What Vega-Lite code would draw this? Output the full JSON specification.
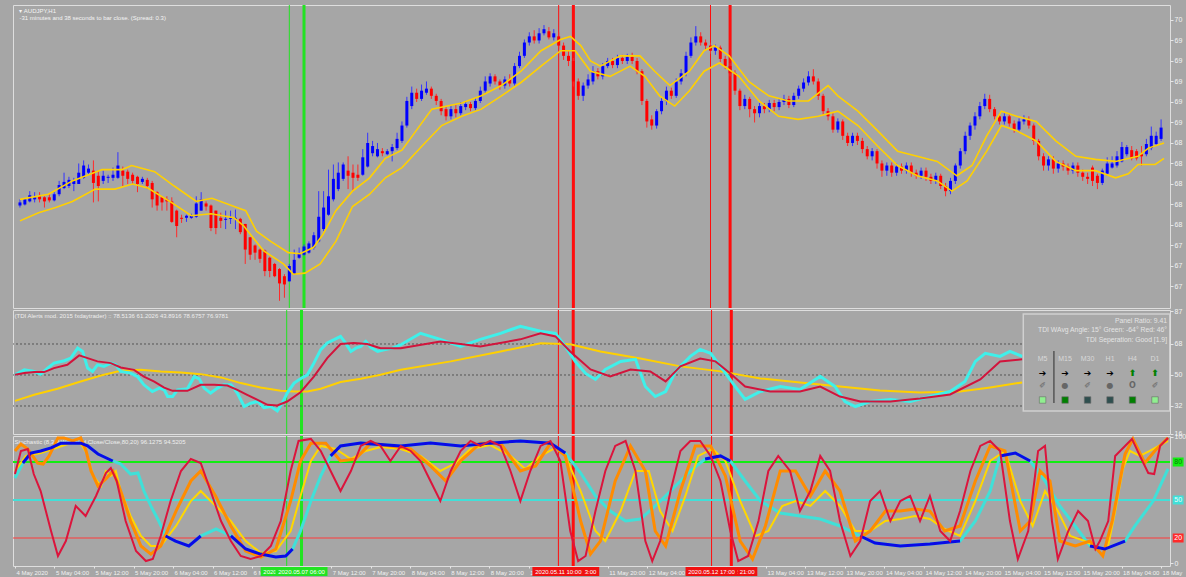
{
"$schema":"https://vega.github.io/schema/vega-lite/v6.json",
"background":"#a6a6a6",
"padding":{"left":12,"top":4,"right":0,"bottom":0},
"bounds":"flush",
"config":{"view":{"stroke":"#dedede","strokeWidth":1},"concat":{"spacing":2},"axis":{"labelFont":"Liberation Sans","labelFontSize":7,"labelColor":"#f2f2f2","tickColor":"#e6e6e6","domain":false,"grid":false,"labelOverlap":false,"labelSeparation":-1000}},
"datasets":{
"vl":[{"i":55,"sig":"buy","lvl":"pre","t":"2020.05.07 03:00"},{"i":58,"sig":"buy","lvl":"main","t":"2020.05.07 06:00"},{"i":110,"sig":"sell","lvl":"pre","t":"2020.05.11 10:00"},{"i":113,"sig":"sell","lvl":"main","t":"2020.05.11 13:00"},{"i":141,"sig":"sell","lvl":"pre","t":"2020.05.12 17:00"},{"i":145,"sig":"sell","lvl":"main","t":"2020.05.12 21:00"}],
"bars":[
{"i":0,"o":68.24,"h":68.30,"l":68.22,"c":68.27},{"i":1,"o":68.25,"h":68.31,"l":68.24,"c":68.30},{"i":2,"o":68.28,"h":68.38,"l":68.27,"c":68.34},{"i":3,"o":68.30,"h":68.37,"l":68.27,"c":68.32},{"i":4,"o":68.33,"h":68.37,"l":68.27,"c":68.30},{"i":5,"o":68.32,"h":68.33,"l":68.22,"c":68.28},{"i":6,"o":68.32,"h":68.35,"l":68.27,"c":68.29},{"i":7,"o":68.29,"h":68.37,"l":68.28,"c":68.35},{"i":8,"o":68.35,"h":68.48,"l":68.33,"c":68.44},{"i":9,"o":68.41,"h":68.56,"l":68.40,"c":68.47},
{"i":10,"o":68.43,"h":68.52,"l":68.41,"c":68.49},{"i":11,"o":68.45,"h":68.51,"l":68.38,"c":68.48},{"i":12,"o":68.45,"h":68.65,"l":68.45,"c":68.56},{"i":13,"o":68.51,"h":68.68,"l":68.50,"c":68.63},{"i":14,"o":68.56,"h":68.64,"l":68.54,"c":68.60},{"i":15,"o":68.58,"h":68.68,"l":68.27,"c":68.46},{"i":16,"o":68.53,"h":68.58,"l":68.28,"c":68.43},{"i":17,"o":68.48,"h":68.58,"l":68.45,"c":68.53},{"i":18,"o":68.51,"h":68.54,"l":68.46,"c":68.52},{"i":19,"o":68.51,"h":68.61,"l":68.48,"c":68.54},
{"i":20,"o":68.51,"h":68.76,"l":68.50,"c":68.63},{"i":21,"o":68.58,"h":68.62,"l":68.43,"c":68.53},{"i":22,"o":68.57,"h":68.59,"l":68.45,"c":68.50},{"i":23,"o":68.54,"h":68.56,"l":68.45,"c":68.48},{"i":24,"o":68.52,"h":68.53,"l":68.37,"c":68.45},{"i":25,"o":68.47,"h":68.52,"l":68.45,"c":68.50},{"i":26,"o":68.49,"h":68.51,"l":68.40,"c":68.43},{"i":27,"o":68.46,"h":68.48,"l":68.22,"c":68.30},{"i":28,"o":68.37,"h":68.38,"l":68.19,"c":68.24},{"i":29,"o":68.32,"h":68.33,"l":68.19,"c":68.27},
{"i":30,"o":68.30,"h":68.33,"l":68.19,"c":68.28},{"i":31,"o":68.28,"h":68.32,"l":68.07,"c":68.08},{"i":32,"o":68.19,"h":68.20,"l":67.93,"c":68.04},{"i":33,"o":68.12,"h":68.15,"l":68.07,"c":68.11},{"i":34,"o":68.12,"h":68.15,"l":68.08,"c":68.14},{"i":35,"o":68.12,"h":68.16,"l":68.11,"c":68.14},{"i":36,"o":68.13,"h":68.33,"l":68.12,"c":68.26},{"i":37,"o":68.19,"h":68.37,"l":68.19,"c":68.30},{"i":38,"o":68.26,"h":68.28,"l":68.19,"c":68.23},{"i":39,"o":68.24,"h":68.25,"l":67.99,"c":68.02},
{"i":40,"o":68.19,"h":68.19,"l":67.96,"c":68.02},{"i":41,"o":68.12,"h":68.17,"l":68.02,"c":68.09},{"i":42,"o":68.10,"h":68.19,"l":68.01,"c":68.11},{"i":43,"o":68.11,"h":68.19,"l":68.06,"c":68.12},{"i":44,"o":68.11,"h":68.20,"l":68.01,"c":68.12},{"i":45,"o":68.11,"h":68.12,"l":67.96,"c":67.98},{"i":46,"o":68.06,"h":68.06,"l":67.67,"c":67.81},{"i":47,"o":67.93,"h":67.93,"l":67.71,"c":67.76},{"i":48,"o":67.85,"h":67.86,"l":67.71,"c":67.78},{"i":49,"o":67.81,"h":67.82,"l":67.68,"c":67.72},
{"i":50,"o":67.80,"h":67.81,"l":67.55,"c":67.60},{"i":51,"o":67.73,"h":67.74,"l":67.54,"c":67.60},{"i":52,"o":67.67,"h":67.68,"l":67.54,"c":67.55},{"i":53,"o":67.62,"h":67.63,"l":67.31,"c":67.48},{"i":54,"o":67.55,"h":67.57,"l":67.34,"c":67.47},{"i":55,"o":67.50,"h":67.67,"l":67.50,"c":67.65},{"i":56,"o":67.57,"h":67.81,"l":67.57,"c":67.71},{"i":57,"o":67.73,"h":67.83,"l":67.72,"c":67.77},{"i":58,"o":67.76,"h":67.86,"l":67.75,"c":67.84},{"i":59,"o":67.78,"h":67.89,"l":67.77,"c":67.87},
{"i":60,"o":67.83,"h":67.98,"l":67.81,"c":67.95},{"i":61,"o":67.89,"h":68.38,"l":67.88,"c":68.13},{"i":62,"o":68.01,"h":68.38,"l":67.99,"c":68.22},{"i":63,"o":68.15,"h":68.59,"l":68.14,"c":68.33},{"i":64,"o":68.30,"h":68.64,"l":68.28,"c":68.50},{"i":65,"o":68.40,"h":68.66,"l":68.38,"c":68.56},{"i":66,"o":68.50,"h":68.66,"l":68.48,"c":68.64},{"i":67,"o":68.58,"h":68.72,"l":68.40,"c":68.53},{"i":68,"o":68.56,"h":68.64,"l":68.38,"c":68.51},{"i":69,"o":68.54,"h":68.64,"l":68.48,"c":68.51},
{"i":70,"o":68.54,"h":68.79,"l":68.53,"c":68.71},{"i":71,"o":68.62,"h":68.95,"l":68.61,"c":68.85},{"i":72,"o":68.75,"h":68.87,"l":68.72,"c":68.82},{"i":73,"o":68.72,"h":68.85,"l":68.71,"c":68.79},{"i":74,"o":68.77,"h":68.80,"l":68.72,"c":68.75},{"i":75,"o":68.74,"h":68.79,"l":68.73,"c":68.77},{"i":76,"o":68.77,"h":68.84,"l":68.67,"c":68.81},{"i":77,"o":68.80,"h":68.95,"l":68.78,"c":68.89},{"i":78,"o":68.87,"h":69.06,"l":68.85,"c":69.02},{"i":79,"o":69.02,"h":69.30,"l":69.00,"c":69.26},
{"i":80,"o":69.21,"h":69.40,"l":69.18,"c":69.34},{"i":81,"o":69.34,"h":69.38,"l":69.25,"c":69.28},{"i":82,"o":69.28,"h":69.42,"l":69.26,"c":69.36},{"i":83,"o":69.34,"h":69.45,"l":69.32,"c":69.38},{"i":84,"o":69.38,"h":69.40,"l":69.28,"c":69.31},{"i":85,"o":69.31,"h":69.33,"l":69.22,"c":69.26},{"i":86,"o":69.26,"h":69.28,"l":69.12,"c":69.16},{"i":87,"o":69.18,"h":69.20,"l":69.07,"c":69.11},{"i":88,"o":69.11,"h":69.22,"l":69.08,"c":69.18},{"i":89,"o":69.18,"h":69.22,"l":69.10,"c":69.14},
{"i":90,"o":69.14,"h":69.25,"l":69.12,"c":69.21},{"i":91,"o":69.20,"h":69.26,"l":69.17,"c":69.23},{"i":92,"o":69.23,"h":69.25,"l":69.16,"c":69.19},{"i":93,"o":69.19,"h":69.29,"l":69.17,"c":69.26},{"i":94,"o":69.26,"h":69.40,"l":69.24,"c":69.36},{"i":95,"o":69.36,"h":69.50,"l":69.34,"c":69.45},{"i":96,"o":69.43,"h":69.53,"l":69.40,"c":69.50},{"i":97,"o":69.50,"h":69.52,"l":69.42,"c":69.45},{"i":98,"o":69.45,"h":69.47,"l":69.37,"c":69.41},{"i":99,"o":69.41,"h":69.50,"l":69.38,"c":69.47},
{"i":100,"o":69.47,"h":69.52,"l":69.40,"c":69.43},{"i":101,"o":69.43,"h":69.63,"l":69.41,"c":69.60},{"i":102,"o":69.60,"h":69.74,"l":69.58,"c":69.70},{"i":103,"o":69.70,"h":69.86,"l":69.68,"c":69.83},{"i":104,"o":69.83,"h":69.93,"l":69.80,"c":69.89},{"i":105,"o":69.89,"h":69.95,"l":69.82,"c":69.85},{"i":106,"o":69.85,"h":69.97,"l":69.82,"c":69.92},{"i":107,"o":69.92,"h":70.00,"l":69.90,"c":69.96},{"i":108,"o":69.94,"h":69.98,"l":69.86,"c":69.88},{"i":109,"o":69.88,"h":69.96,"l":69.85,"c":69.92},
{"i":110,"o":69.89,"h":69.93,"l":69.77,"c":69.80},{"i":111,"o":69.80,"h":69.83,"l":69.66,"c":69.70},{"i":112,"o":69.70,"h":69.75,"l":69.60,"c":69.65},{"i":113,"o":69.65,"h":69.68,"l":69.40,"c":69.45},{"i":114,"o":69.45,"h":69.48,"l":69.27,"c":69.31},{"i":115,"o":69.31,"h":69.44,"l":69.26,"c":69.41},{"i":116,"o":69.41,"h":69.52,"l":69.38,"c":69.47},{"i":117,"o":69.45,"h":69.60,"l":69.42,"c":69.55},{"i":118,"o":69.55,"h":69.58,"l":69.47,"c":69.50},{"i":119,"o":69.50,"h":69.63,"l":69.47,"c":69.60},
{"i":120,"o":69.60,"h":69.68,"l":69.58,"c":69.65},{"i":121,"o":69.65,"h":69.68,"l":69.58,"c":69.61},{"i":122,"o":69.61,"h":69.71,"l":69.58,"c":69.68},{"i":123,"o":69.68,"h":69.71,"l":69.62,"c":69.65},{"i":124,"o":69.65,"h":69.72,"l":69.62,"c":69.69},{"i":125,"o":69.69,"h":69.73,"l":69.62,"c":69.65},{"i":126,"o":69.65,"h":69.68,"l":69.52,"c":69.55},{"i":127,"o":69.55,"h":69.57,"l":69.22,"c":69.26},{"i":128,"o":69.26,"h":69.28,"l":69.00,"c":69.06},{"i":129,"o":69.08,"h":69.12,"l":68.98,"c":69.02},
{"i":130,"o":69.02,"h":69.18,"l":68.99,"c":69.16},{"i":131,"o":69.16,"h":69.29,"l":69.13,"c":69.26},{"i":132,"o":69.26,"h":69.40,"l":69.22,"c":69.36},{"i":133,"o":69.36,"h":69.39,"l":69.28,"c":69.31},{"i":134,"o":69.31,"h":69.48,"l":69.29,"c":69.45},{"i":135,"o":69.45,"h":69.57,"l":69.42,"c":69.53},{"i":136,"o":69.53,"h":69.74,"l":69.50,"c":69.70},{"i":137,"o":69.70,"h":69.88,"l":69.68,"c":69.83},{"i":138,"o":69.83,"h":69.99,"l":69.80,"c":69.89},{"i":139,"o":69.89,"h":69.93,"l":69.80,"c":69.83},
{"i":140,"o":69.83,"h":69.86,"l":69.76,"c":69.80},{"i":141,"o":69.80,"h":69.83,"l":69.72,"c":69.75},{"i":142,"o":69.75,"h":69.81,"l":69.71,"c":69.78},{"i":143,"o":69.78,"h":69.80,"l":69.64,"c":69.67},{"i":144,"o":69.67,"h":69.70,"l":69.57,"c":69.60},{"i":145,"o":69.60,"h":69.63,"l":69.50,"c":69.53},{"i":146,"o":69.53,"h":69.56,"l":69.32,"c":69.36},{"i":147,"o":69.36,"h":69.38,"l":69.17,"c":69.21},{"i":148,"o":69.21,"h":69.32,"l":69.18,"c":69.28},{"i":149,"o":69.28,"h":69.30,"l":69.10,"c":69.18},
{"i":150,"o":69.18,"h":69.21,"l":69.05,"c":69.14},{"i":151,"o":69.14,"h":69.24,"l":69.10,"c":69.21},{"i":152,"o":69.21,"h":69.24,"l":69.14,"c":69.18},{"i":153,"o":69.18,"h":69.27,"l":69.15,"c":69.24},{"i":154,"o":69.24,"h":69.27,"l":69.16,"c":69.20},{"i":155,"o":69.20,"h":69.28,"l":69.17,"c":69.25},{"i":156,"o":69.25,"h":69.32,"l":69.22,"c":69.28},{"i":157,"o":69.28,"h":69.31,"l":69.19,"c":69.22},{"i":158,"o":69.22,"h":69.34,"l":69.20,"c":69.31},{"i":159,"o":69.31,"h":69.41,"l":69.28,"c":69.38},
{"i":160,"o":69.38,"h":69.48,"l":69.35,"c":69.44},{"i":161,"o":69.44,"h":69.55,"l":69.41,"c":69.50},{"i":162,"o":69.50,"h":69.57,"l":69.42,"c":69.45},{"i":163,"o":69.45,"h":69.48,"l":69.27,"c":69.31},{"i":164,"o":69.31,"h":69.33,"l":69.12,"c":69.16},{"i":165,"o":69.16,"h":69.19,"l":69.07,"c":69.11},{"i":166,"o":69.11,"h":69.14,"l":68.95,"c":68.98},{"i":167,"o":68.98,"h":69.09,"l":68.95,"c":69.06},{"i":168,"o":69.06,"h":69.08,"l":68.88,"c":68.92},{"i":169,"o":68.92,"h":68.95,"l":68.82,"c":68.85},
{"i":170,"o":68.85,"h":68.95,"l":68.82,"c":68.92},{"i":171,"o":68.92,"h":68.95,"l":68.83,"c":68.87},{"i":172,"o":68.87,"h":68.90,"l":68.75,"c":68.79},{"i":173,"o":68.79,"h":68.82,"l":68.69,"c":68.72},{"i":174,"o":68.72,"h":68.80,"l":68.68,"c":68.77},{"i":175,"o":68.77,"h":68.79,"l":68.60,"c":68.65},{"i":176,"o":68.65,"h":68.68,"l":68.52,"c":68.58},{"i":177,"o":68.58,"h":68.66,"l":68.53,"c":68.63},{"i":178,"o":68.63,"h":68.66,"l":68.52,"c":68.56},{"i":179,"o":68.56,"h":68.65,"l":68.53,"c":68.62},
{"i":180,"o":68.62,"h":68.65,"l":68.55,"c":68.58},{"i":181,"o":68.58,"h":68.66,"l":68.55,"c":68.63},{"i":182,"o":68.63,"h":68.66,"l":68.52,"c":68.56},{"i":183,"o":68.56,"h":68.59,"l":68.50,"c":68.53},{"i":184,"o":68.53,"h":68.61,"l":68.50,"c":68.58},{"i":185,"o":68.58,"h":68.61,"l":68.48,"c":68.52},{"i":186,"o":68.52,"h":68.55,"l":68.45,"c":68.48},{"i":187,"o":68.48,"h":68.56,"l":68.45,"c":68.53},{"i":188,"o":68.53,"h":68.55,"l":68.40,"c":68.43},{"i":189,"o":68.43,"h":68.46,"l":68.33,"c":68.38},
{"i":190,"o":68.38,"h":68.51,"l":68.35,"c":68.48},{"i":191,"o":68.48,"h":68.65,"l":68.45,"c":68.63},{"i":192,"o":68.63,"h":68.80,"l":68.60,"c":68.77},{"i":193,"o":68.77,"h":68.96,"l":68.74,"c":68.92},{"i":194,"o":68.92,"h":69.05,"l":68.88,"c":69.02},{"i":195,"o":69.02,"h":69.15,"l":68.98,"c":69.11},{"i":196,"o":69.11,"h":69.25,"l":69.08,"c":69.21},{"i":197,"o":69.21,"h":69.33,"l":69.18,"c":69.28},{"i":198,"o":69.28,"h":69.32,"l":69.15,"c":69.18},{"i":199,"o":69.18,"h":69.20,"l":69.08,"c":69.11},
{"i":200,"o":69.11,"h":69.14,"l":69.03,"c":69.06},{"i":201,"o":69.06,"h":69.14,"l":69.03,"c":69.11},{"i":202,"o":69.11,"h":69.14,"l":69.01,"c":69.04},{"i":203,"o":69.04,"h":69.07,"l":68.95,"c":68.98},{"i":204,"o":68.98,"h":69.09,"l":68.95,"c":69.06},{"i":205,"o":69.06,"h":69.12,"l":69.03,"c":69.08},{"i":206,"o":69.08,"h":69.11,"l":68.99,"c":69.02},{"i":207,"o":69.02,"h":69.04,"l":68.83,"c":68.87},{"i":208,"o":68.87,"h":68.89,"l":68.68,"c":68.72},{"i":209,"o":68.72,"h":68.75,"l":68.58,"c":68.63},
{"i":210,"o":68.63,"h":68.72,"l":68.58,"c":68.69},{"i":211,"o":68.69,"h":68.72,"l":68.55,"c":68.60},{"i":212,"o":68.60,"h":68.68,"l":68.56,"c":68.65},{"i":213,"o":68.65,"h":68.68,"l":68.58,"c":68.62},{"i":214,"o":68.62,"h":68.65,"l":68.54,"c":68.58},{"i":215,"o":68.58,"h":68.66,"l":68.55,"c":68.63},{"i":216,"o":68.63,"h":68.66,"l":68.52,"c":68.56},{"i":217,"o":68.56,"h":68.59,"l":68.48,"c":68.52},{"i":218,"o":68.52,"h":68.56,"l":68.45,"c":68.50},{"i":219,"o":68.61,"h":68.63,"l":68.43,"c":68.48},
{"i":220,"o":68.53,"h":68.55,"l":68.40,"c":68.46},{"i":221,"o":68.46,"h":68.60,"l":68.44,"c":68.58},{"i":222,"o":68.55,"h":68.71,"l":68.53,"c":68.65},{"i":223,"o":68.61,"h":68.72,"l":68.60,"c":68.65},{"i":224,"o":68.63,"h":68.77,"l":68.61,"c":68.72},{"i":225,"o":68.67,"h":68.86,"l":68.66,"c":68.81},{"i":226,"o":68.74,"h":68.83,"l":68.72,"c":68.81},{"i":227,"o":68.78,"h":68.82,"l":68.68,"c":68.70},{"i":228,"o":68.77,"h":68.79,"l":68.68,"c":68.70},{"i":229,"o":68.74,"h":68.82,"l":68.63,"c":68.72},
{"i":230,"o":68.74,"h":68.89,"l":68.72,"c":68.84},{"i":231,"o":68.80,"h":69.01,"l":68.78,"c":68.92},{"i":232,"o":68.84,"h":68.96,"l":68.82,"c":68.92},{"i":233,"o":68.89,"h":69.08,"l":68.87,"c":69.00}],
"bands":[
{"s":"a","i":0,"p":68.30},{"s":"a","i":5.8,"p":68.35},{"s":"a","i":10.7,"p":68.48},{"s":"a","i":16.8,"p":68.59},{"s":"a","i":20.8,"p":68.59},{"s":"a","i":22.8,"p":68.63},{"s":"a","i":27.5,"p":68.57},{"s":"a","i":31.5,"p":68.43},{"s":"a","i":36,"p":68.28},{"s":"a","i":39.2,"p":68.31},{"s":"a","i":44.3,"p":68.22},{"s":"a","i":46.1,"p":68.19},{"s":"a","i":48.3,"p":67.99},{"s":"a","i":51.2,"p":67.89},{"s":"a","i":54.8,"p":67.78},{"s":"a","i":57.2,"p":67.77},{"s":"a","i":59.9,"p":67.83},{"s":"a","i":61.9,"p":67.96},{"s":"a","i":64.5,"p":68.19},{"s":"a","i":67.9,"p":68.38},{"s":"a","i":71.4,"p":68.51},{"s":"a","i":74.6,"p":68.70},{"s":"a","i":78,"p":68.78},{"s":"a","i":84.1,"p":69.18},{"s":"a","i":90.2,"p":69.24},{"s":"a","i":94.2,"p":69.31},{"s":"a","i":98.3,"p":69.41},{"s":"a","i":102.3,"p":69.55},{"s":"a","i":106.4,"p":69.75},{"s":"a","i":110.4,"p":69.86},{"s":"a","i":112.4,"p":69.89},{"s":"a","i":114.5,"p":69.80},{"s":"a","i":116.5,"p":69.65},{"s":"a","i":118.5,"p":69.60},{"s":"a","i":122.6,"p":69.70},{"s":"a","i":126.6,"p":69.70},{"s":"a","i":129.6,"p":69.55},{"s":"a","i":132.7,"p":69.41},{"s":"a","i":136.7,"p":69.55},{"s":"a","i":139.7,"p":69.75},{"s":"a","i":141.8,"p":69.80},{"s":"a","i":144.8,"p":69.70},{"s":"a","i":148.8,"p":69.45},{"s":"a","i":152.9,"p":69.31},{"s":"a","i":156.9,"p":69.26},{"s":"a","i":161,"p":69.26},{"s":"a","i":165,"p":69.41},{"s":"a","i":167,"p":69.31},{"s":"a","i":171.1,"p":69.16},{"s":"a","i":175.1,"p":68.97},{"s":"a","i":179.2,"p":68.77},{"s":"a","i":183.2,"p":68.72},{"s":"a","i":187.3,"p":68.67},{"s":"a","i":191.3,"p":68.53},{"s":"a","i":194.4,"p":68.63},{"s":"a","i":197.4,"p":68.92},{"s":"a","i":200.4,"p":69.16},{"s":"a","i":203.5,"p":69.11},{"s":"a","i":207.5,"p":69.06},{"s":"a","i":211.5,"p":68.87},{"s":"a","i":215.6,"p":68.72},{"s":"a","i":219.6,"p":68.69},{"s":"a","i":223.7,"p":68.67},{"s":"a","i":228.3,"p":68.72},{"s":"a","i":230.4,"p":68.80},{"s":"a","i":233.6,"p":68.85},
{"s":"b","i":0,"p":68.09},{"s":"b","i":3.8,"p":68.17},{"s":"b","i":7.3,"p":68.22},{"s":"b","i":10.7,"p":68.28},{"s":"b","i":15.4,"p":68.40},{"s":"b","i":19.4,"p":68.40},{"s":"b","i":23,"p":68.45},{"s":"b","i":26.1,"p":68.41},{"s":"b","i":30.9,"p":68.27},{"s":"b","i":35,"p":68.14},{"s":"b","i":39,"p":68.16},{"s":"b","i":43.7,"p":68.12},{"s":"b","i":45.7,"p":68.04},{"s":"b","i":49.7,"p":67.80},{"s":"b","i":53.8,"p":67.67},{"s":"b","i":55.8,"p":67.57},{"s":"b","i":58.2,"p":67.58},{"s":"b","i":61.3,"p":67.67},{"s":"b","i":64.5,"p":67.89},{"s":"b","i":67.9,"p":68.23},{"s":"b","i":71.4,"p":68.35},{"s":"b","i":74.6,"p":68.51},{"s":"b","i":78,"p":68.61},{"s":"b","i":82.1,"p":68.82},{"s":"b","i":86.1,"p":69.02},{"s":"b","i":90.2,"p":69.11},{"s":"b","i":94.2,"p":69.18},{"s":"b","i":98.3,"p":69.31},{"s":"b","i":102.3,"p":69.44},{"s":"b","i":106.4,"p":69.60},{"s":"b","i":110.4,"p":69.75},{"s":"b","i":113.4,"p":69.75},{"s":"b","i":116.5,"p":69.55},{"s":"b","i":120.5,"p":69.50},{"s":"b","i":124.6,"p":69.60},{"s":"b","i":127.6,"p":69.50},{"s":"b","i":130.6,"p":69.31},{"s":"b","i":133.7,"p":69.21},{"s":"b","i":136.7,"p":69.36},{"s":"b","i":139.7,"p":69.55},{"s":"b","i":142.8,"p":69.63},{"s":"b","i":146.8,"p":69.50},{"s":"b","i":150.9,"p":69.26},{"s":"b","i":154.9,"p":69.11},{"s":"b","i":158.9,"p":69.08},{"s":"b","i":163,"p":69.11},{"s":"b","i":167,"p":69.16},{"s":"b","i":171.1,"p":69.02},{"s":"b","i":175.1,"p":68.82},{"s":"b","i":179.2,"p":68.63},{"s":"b","i":183.2,"p":68.53},{"s":"b","i":187.3,"p":68.48},{"s":"b","i":190.3,"p":68.38},{"s":"b","i":193.4,"p":68.48},{"s":"b","i":197.4,"p":68.77},{"s":"b","i":200.4,"p":69.02},{"s":"b","i":203.5,"p":68.97},{"s":"b","i":207.5,"p":68.87},{"s":"b","i":211.5,"p":68.67},{"s":"b","i":215.6,"p":68.58},{"s":"b","i":219.6,"p":68.58},{"s":"b","i":223.7,"p":68.51},{"s":"b","i":226.3,"p":68.55},{"s":"b","i":228.3,"p":68.64},{"s":"b","i":231.8,"p":68.64},{"s":"b","i":233.6,"p":68.70}],
"tdi":[
{"s":"y","i":0,"v":35.0},{"s":"y","i":3.9,"v":38.5},{"s":"y","i":8.6,"v":42.0},{"s":"y","i":13.3,"v":46.2},{"s":"y","i":17.4,"v":49.7},{"s":"y","i":21.4,"v":52.4},{"s":"y","i":25.5,"v":53.0},{"s":"y","i":29.5,"v":52.1},{"s":"y","i":33.6,"v":51.5},{"s":"y","i":37.6,"v":50.5},{"s":"y","i":41.7,"v":48.6},{"s":"y","i":45.7,"v":45.3},{"s":"y","i":49.7,"v":42.7},{"s":"y","i":53.8,"v":40.8},{"s":"y","i":56.5,"v":40.4},{"s":"y","i":59.2,"v":40.4},{"s":"y","i":61.9,"v":42.0},{"s":"y","i":65.9,"v":45.9},{"s":"y","i":70.0,"v":47.8},{"s":"y","i":74.0,"v":50.1},{"s":"y","i":78.1,"v":53.0},{"s":"y","i":88.2,"v":57.9},{"s":"y","i":98.3,"v":63.7},{"s":"y","i":106.4,"v":68.4},{"s":"y","i":112.4,"v":67.8},{"s":"y","i":118.5,"v":63.7},{"s":"y","i":126.6,"v":59.6},{"s":"y","i":134.7,"v":55.0},{"s":"y","i":142.8,"v":52.1},{"s":"y","i":150.9,"v":48.0},{"s":"y","i":158.9,"v":45.7},{"s":"y","i":167.0,"v":43.3},{"s":"y","i":175.1,"v":41.0},{"s":"y","i":183.2,"v":39.9},{"s":"y","i":191.3,"v":40.4},{"s":"y","i":197.4,"v":42.8},{"s":"y","i":203.9,"v":45.7},
{"s":"c","i":0,"v":50.1},{"s":"c","i":1.9,"v":53.0},{"s":"c","i":3.9,"v":52.1},{"s":"c","i":5.2,"v":50.5},{"s":"c","i":6.6,"v":54.0},{"s":"c","i":7.9,"v":56.9},{"s":"c","i":10.0,"v":58.3},{"s":"c","i":11.3,"v":59.8},{"s":"c","i":12.7,"v":65.6},{"s":"c","i":13.7,"v":63.7},{"s":"c","i":14.7,"v":54.0},{"s":"c","i":15.7,"v":52.1},{"s":"c","i":16.7,"v":55.9},{"s":"c","i":18.0,"v":55.0},{"s":"c","i":19.4,"v":56.9},{"s":"c","i":20.4,"v":55.9},{"s":"c","i":21.4,"v":52.1},{"s":"c","i":23.4,"v":51.1},{"s":"c","i":24.8,"v":49.1},{"s":"c","i":26.1,"v":44.3},{"s":"c","i":27.8,"v":40.4},{"s":"c","i":29.2,"v":42.4},{"s":"c","i":30.2,"v":41.4},{"s":"c","i":30.9,"v":37.5},{"s":"c","i":31.9,"v":37.5},{"s":"c","i":32.9,"v":41.4},{"s":"c","i":34.9,"v":42.0},{"s":"c","i":36.3,"v":49.1},{"s":"c","i":37.3,"v":47.8},{"s":"c","i":38.3,"v":42.4},{"s":"c","i":39.6,"v":39.5},{"s":"c","i":41.0,"v":42.4},{"s":"c","i":42.3,"v":44.3},{"s":"c","i":43.7,"v":44.3},{"s":"c","i":44.3,"v":42.4},{"s":"c","i":45.0,"v":39.5},{"s":"c","i":46.4,"v":31.7},{"s":"c","i":47.7,"v":33.6},{"s":"c","i":49.1,"v":34.6},{"s":"c","i":50.4,"v":31.1},{"s":"c","i":51.8,"v":31.7},{"s":"c","i":53.1,"v":29.2},{"s":"c","i":54.1,"v":33.6},{"s":"c","i":55.1,"v":39.5},{"s":"c","i":56.5,"v":45.3},{"s":"c","i":57.8,"v":47.8},{"s":"c","i":59.2,"v":50.1},{"s":"c","i":60.5,"v":56.9},{"s":"c","i":61.9,"v":64.7},{"s":"c","i":63.2,"v":68.6},{"s":"c","i":64.6,"v":70.5},{"s":"c","i":65.9,"v":72.4},{"s":"c","i":66.9,"v":68.6},{"s":"c","i":68.0,"v":63.7},{"s":"c","i":69.0,"v":65.6},{"s":"c","i":70.0,"v":66.6},{"s":"c","i":71.0,"v":69.5},{"s":"c","i":72.0,"v":66.0},{"s":"c","i":73.4,"v":63.7},{"s":"c","i":74.7,"v":64.7},{"s":"c","i":76.4,"v":65.6},{"s":"c","i":78.1,"v":67.6},{"s":"c","i":82.1,"v":74.2},{"s":"c","i":86.1,"v":70.7},{"s":"c","i":90.2,"v":66.6},{"s":"c","i":94.2,"v":70.7},{"s":"c","i":98.3,"v":74.2},{"s":"c","i":102.3,"v":78.3},{"s":"c","i":106.4,"v":75.4},{"s":"c","i":109.4,"v":74.2},{"s":"c","i":111.4,"v":66.6},{"s":"c","i":113.4,"v":57.9},{"s":"c","i":115.5,"v":50.9},{"s":"c","i":117.5,"v":47.4},{"s":"c","i":119.5,"v":53.2},{"s":"c","i":122.6,"v":57.9},{"s":"c","i":125.6,"v":59.1},{"s":"c","i":127.6,"v":43.3},{"s":"c","i":129.6,"v":37.5},{"s":"c","i":131.7,"v":40.4},{"s":"c","i":133.7,"v":52.1},{"s":"c","i":136.7,"v":60.8},{"s":"c","i":138.7,"v":64.9},{"s":"c","i":140.8,"v":62.6},{"s":"c","i":142.8,"v":55.0},{"s":"c","i":145.8,"v":43.3},{"s":"c","i":147.8,"v":35.8},{"s":"c","i":150.9,"v":40.4},{"s":"c","i":154.9,"v":43.3},{"s":"c","i":158.9,"v":41.6},{"s":"c","i":163.0,"v":49.2},{"s":"c","i":166.0,"v":43.3},{"s":"c","i":168.0,"v":34.6},{"s":"c","i":170.1,"v":31.7},{"s":"c","i":173.1,"v":34.6},{"s":"c","i":177.2,"v":35.8},{"s":"c","i":181.2,"v":34.6},{"s":"c","i":185.2,"v":37.5},{"s":"c","i":189.3,"v":40.4},{"s":"c","i":192.3,"v":46.3},{"s":"c","i":194.4,"v":57.9},{"s":"c","i":196.4,"v":62.6},{"s":"c","i":199.4,"v":60.8},{"s":"c","i":201.4,"v":63.7},{"s":"c","i":203.9,"v":60.8},
{"s":"r","i":0,"v":50.1},{"s":"r","i":1.9,"v":51.1},{"s":"r","i":3.9,"v":51.7},{"s":"r","i":5.9,"v":51.7},{"s":"r","i":7.9,"v":54.0},{"s":"r","i":10.6,"v":55.9},{"s":"r","i":13.0,"v":61.4},{"s":"r","i":14.7,"v":59.8},{"s":"r","i":16.7,"v":57.9},{"s":"r","i":19.4,"v":56.9},{"s":"r","i":21.4,"v":54.4},{"s":"r","i":24.1,"v":53.0},{"s":"r","i":26.1,"v":49.1},{"s":"r","i":28.2,"v":46.2},{"s":"r","i":30.2,"v":42.7},{"s":"r","i":31.9,"v":40.8},{"s":"r","i":34.9,"v":40.8},{"s":"r","i":37.6,"v":44.3},{"s":"r","i":40.3,"v":44.3},{"s":"r","i":43.0,"v":43.9},{"s":"r","i":45.0,"v":41.4},{"s":"r","i":47.0,"v":38.5},{"s":"r","i":49.1,"v":35.6},{"s":"r","i":51.1,"v":32.7},{"s":"r","i":53.1,"v":32.3},{"s":"r","i":55.1,"v":34.6},{"s":"r","i":57.8,"v":40.0},{"s":"r","i":60.5,"v":49.1},{"s":"r","i":63.2,"v":59.8},{"s":"r","i":65.9,"v":68.0},{"s":"r","i":68.6,"v":68.6},{"s":"r","i":71.3,"v":68.0},{"s":"r","i":74.0,"v":65.6},{"s":"r","i":78.1,"v":65.6},{"s":"r","i":86.1,"v":69.5},{"s":"r","i":94.2,"v":66.6},{"s":"r","i":102.3,"v":70.7},{"s":"r","i":106.4,"v":74.2},{"s":"r","i":109.4,"v":72.4},{"s":"r","i":112.4,"v":63.7},{"s":"r","i":116.5,"v":53.2},{"s":"r","i":120.5,"v":49.2},{"s":"r","i":124.6,"v":53.2},{"s":"r","i":128.6,"v":52.1},{"s":"r","i":131.7,"v":46.3},{"s":"r","i":134.7,"v":55.0},{"s":"r","i":138.7,"v":59.6},{"s":"r","i":141.8,"v":57.9},{"s":"r","i":144.8,"v":50.9},{"s":"r","i":147.8,"v":43.3},{"s":"r","i":152.9,"v":40.4},{"s":"r","i":158.9,"v":40.4},{"s":"r","i":163.0,"v":43.3},{"s":"r","i":167.0,"v":37.5},{"s":"r","i":171.1,"v":34.6},{"s":"r","i":177.2,"v":34.6},{"s":"r","i":183.2,"v":36.4},{"s":"r","i":189.3,"v":38.7},{"s":"r","i":195.4,"v":47.4},{"s":"r","i":199.4,"v":57.9},{"s":"r","i":203.9,"v":59.1}],
"leg":[{"tf":"M5","ar":"➔","dir":"side","ic":"✐","sq":"light"},{"tf":"M15","ar":"➔","dir":"side","ic":"●","sq":"green"},{"tf":"M30","ar":"➔","dir":"side","ic":"✐","sq":"slate"},{"tf":"H1","ar":"➔","dir":"side","ic":"●","sq":"slate"},{"tf":"H4","ar":"⬆","dir":"up","ic":"O","sq":"green"},{"tf":"D1","ar":"⬆","dir":"up","ic":"✐","sq":"light"}],
"st":[
{"s":"sl","i":0,"v":67.4},{"s":"sl","i":1.6,"v":79.2},{"s":"sl","i":3.2,"v":87.1},{"s":"sl","i":5.2,"v":88.7},{"s":"sl","i":7.3,"v":91.1},{"s":"sl","i":9.3,"v":94.9},{"s":"sl","i":13.3,"v":94.9},{"s":"sl","i":14.7,"v":92.7},{"s":"sl","i":16.8,"v":86.3},{"s":"sl","i":19.8,"v":80.8},{"s":"sl","i":21.4,"v":78.4},{"s":"sl","i":23.4,"v":70.5},{"s":"sl","i":24.9,"v":71.3},{"s":"sl","i":26.1,"v":57.1},{"s":"sl","i":27.5,"v":45.3},{"s":"sl","i":29.1,"v":33.4},{"s":"sl","i":30.5,"v":21.6},{"s":"sl","i":32.5,"v":17.6},{"s":"sl","i":35.2,"v":13.7},{"s":"sl","i":37.6,"v":21.6},{"s":"sl","i":40.7,"v":27.1},{"s":"sl","i":43.7,"v":21.6},{"s":"sl","i":46.7,"v":11.3},{"s":"sl","i":49.7,"v":7.3},{"s":"sl","i":52.8,"v":5.0},{"s":"sl","i":54.8,"v":5.8},{"s":"sl","i":56.2,"v":11.3},{"s":"sl","i":57.8,"v":25.5},{"s":"sl","i":59.9,"v":49.2},{"s":"sl","i":61.9,"v":69.0},{"s":"sl","i":63.9,"v":84.8},{"s":"sl","i":65.9,"v":92.7},{"s":"sl","i":70.0,"v":94.9},{"s":"sl","i":78.1,"v":92.7},{"s":"sl","i":84.1,"v":94.9},{"s":"sl","i":90.2,"v":92.7},{"s":"sl","i":96.2,"v":94.9},{"s":"sl","i":102.3,"v":96.6},{"s":"sl","i":108.4,"v":94.9},{"s":"sl","i":111.4,"v":87.1},{"s":"sl","i":114.5,"v":71.3},{"s":"sl","i":117.5,"v":53.2},{"s":"sl","i":120.5,"v":41.3},{"s":"sl","i":123.6,"v":33.4},{"s":"sl","i":126.6,"v":35.0},{"s":"sl","i":129.6,"v":45.3},{"s":"sl","i":132.7,"v":57.1},{"s":"sl","i":136.7,"v":72.9},{"s":"sl","i":139.7,"v":82.4},{"s":"sl","i":142.8,"v":84.8},{"s":"sl","i":144.8,"v":80.8},{"s":"sl","i":147.8,"v":65.0},{"s":"sl","i":150.9,"v":49.2},{"s":"sl","i":154.9,"v":39.7},{"s":"sl","i":158.9,"v":37.4},{"s":"sl","i":163.0,"v":35.0},{"s":"sl","i":167.0,"v":29.5},{"s":"sl","i":171.1,"v":21.6},{"s":"sl","i":174.1,"v":16.0},{"s":"sl","i":179.2,"v":13.7},{"s":"sl","i":185.2,"v":15.2},{"s":"sl","i":191.3,"v":17.6},{"s":"sl","i":194.4,"v":33.4},{"s":"sl","i":197.4,"v":57.1},{"s":"sl","i":199.4,"v":84.8},{"s":"sl","i":202.5,"v":87.1},{"s":"sl","i":205.5,"v":80.8},{"s":"sl","i":208.5,"v":65.0},{"s":"sl","i":211.5,"v":45.3},{"s":"sl","i":214.6,"v":29.5},{"s":"sl","i":217.6,"v":13.7},{"s":"sl","i":220.6,"v":11.3},{"s":"sl","i":224.7,"v":17.6},{"s":"sl","i":226.7,"v":29.5},{"s":"sl","i":230.4,"v":49.2},{"s":"sl","i":233.4,"v":74.5},
{"s":"y","i":0,"v":72.9},{"s":"y","i":2.2,"v":84.8},{"s":"y","i":5.2,"v":87.1},{"s":"y","i":8.3,"v":91.1},{"s":"y","i":11.3,"v":94.9},{"s":"y","i":13.3,"v":94.9},{"s":"y","i":14.5,"v":87.1},{"s":"y","i":15.8,"v":69.0},{"s":"y","i":17.4,"v":61.0},{"s":"y","i":18.4,"v":72.9},{"s":"y","i":19.4,"v":69.0},{"s":"y","i":20.4,"v":72.9},{"s":"y","i":21.4,"v":57.1},{"s":"y","i":23.4,"v":37.4},{"s":"y","i":25.5,"v":21.6},{"s":"y","i":27.5,"v":13.7},{"s":"y","i":29.5,"v":13.7},{"s":"y","i":32.6,"v":29.5},{"s":"y","i":35.6,"v":49.2},{"s":"y","i":37.6,"v":57.1},{"s":"y","i":39.6,"v":49.2},{"s":"y","i":41.7,"v":41.3},{"s":"y","i":43.7,"v":33.4},{"s":"y","i":46.7,"v":17.6},{"s":"y","i":49.8,"v":8.1},{"s":"y","i":52.8,"v":9.7},{"s":"y","i":55.8,"v":25.5},{"s":"y","i":57.8,"v":53.2},{"s":"y","i":59.9,"v":80.8},{"s":"y","i":61.9,"v":92.7},{"s":"y","i":64.9,"v":90.3},{"s":"y","i":68.0,"v":82.4},{"s":"y","i":71.0,"v":88.7},{"s":"y","i":74.0,"v":91.9},{"s":"y","i":78.1,"v":90.3},{"s":"y","i":82.1,"v":84.8},{"s":"y","i":86.1,"v":72.9},{"s":"y","i":89.2,"v":79.2},{"s":"y","i":92.2,"v":90.3},{"s":"y","i":96.2,"v":93.4},{"s":"y","i":100.3,"v":84.8},{"s":"y","i":103.3,"v":74.5},{"s":"y","i":106.4,"v":84.8},{"s":"y","i":109.4,"v":91.1},{"s":"y","i":111.4,"v":84.8},{"s":"y","i":114.5,"v":57.1},{"s":"y","i":117.5,"v":25.5},{"s":"y","i":119.5,"v":17.6},{"s":"y","i":122.6,"v":41.3},{"s":"y","i":125.6,"v":72.9},{"s":"y","i":128.3,"v":72.9},{"s":"y","i":130.6,"v":41.3},{"s":"y","i":133.1,"v":25.5},{"s":"y","i":135.7,"v":53.2},{"s":"y","i":138.3,"v":84.8},{"s":"y","i":141.2,"v":90.3},{"s":"y","i":143.8,"v":80.8},{"s":"y","i":146.8,"v":49.2},{"s":"y","i":149.9,"v":21.6},{"s":"y","i":152.5,"v":25.5},{"s":"y","i":155.3,"v":45.3},{"s":"y","i":158.0,"v":49.2},{"s":"y","i":161.0,"v":45.3},{"s":"y","i":164.0,"v":57.1},{"s":"y","i":167.0,"v":45.3},{"s":"y","i":170.1,"v":25.5},{"s":"y","i":173.1,"v":25.5},{"s":"y","i":176.2,"v":33.4},{"s":"y","i":179.2,"v":35.0},{"s":"y","i":182.2,"v":37.4},{"s":"y","i":185.2,"v":35.0},{"s":"y","i":188.2,"v":27.1},{"s":"y","i":191.3,"v":21.6},{"s":"y","i":194.4,"v":49.2},{"s":"y","i":197.4,"v":80.8},{"s":"y","i":200.4,"v":88.7},{"s":"y","i":203.5,"v":49.2},{"s":"y","i":206.0,"v":29.5},{"s":"y","i":208.5,"v":57.1},{"s":"y","i":211.1,"v":41.3},{"s":"y","i":213.6,"v":21.6},{"s":"y","i":216.6,"v":17.6},{"s":"y","i":219.6,"v":11.3},{"s":"y","i":221.2,"v":12.1},{"s":"y","i":222.7,"v":41.3},{"s":"y","i":224.3,"v":75.2},{"s":"y","i":225.7,"v":88.7},{"s":"y","i":227.7,"v":84.8},{"s":"y","i":229.7,"v":88.7},{"s":"y","i":233.4,"v":96.6},
{"s":"o","i":0,"v":88.7},{"s":"o","i":1.2,"v":94.2},{"s":"o","i":2.6,"v":90.3},{"s":"o","i":4.6,"v":79.2},{"s":"o","i":5.7,"v":78.4},{"s":"o","i":6.9,"v":84.8},{"s":"o","i":7.9,"v":92.7},{"s":"o","i":8.7,"v":99.0},{"s":"o","i":9.9,"v":99.0},{"s":"o","i":11.7,"v":96.6},{"s":"o","i":13.3,"v":99.0},{"s":"o","i":14.4,"v":88.7},{"s":"o","i":15.4,"v":72.9},{"s":"o","i":16.8,"v":61.0},{"s":"o","i":18.4,"v":66.6},{"s":"o","i":19.8,"v":72.9},{"s":"o","i":21.4,"v":57.1},{"s":"o","i":23.4,"v":33.4},{"s":"o","i":25.5,"v":13.7},{"s":"o","i":27.5,"v":7.3},{"s":"o","i":29.5,"v":13.7},{"s":"o","i":32.6,"v":41.3},{"s":"o","i":35.6,"v":65.0},{"s":"o","i":37.6,"v":72.9},{"s":"o","i":40.6,"v":53.2},{"s":"o","i":43.7,"v":29.5},{"s":"o","i":46.7,"v":9.7},{"s":"o","i":49.8,"v":5.0},{"s":"o","i":52.8,"v":11.3},{"s":"o","i":55.8,"v":49.2},{"s":"o","i":57.8,"v":80.8},{"s":"o","i":59.9,"v":94.9},{"s":"o","i":62.9,"v":94.9},{"s":"o","i":65.9,"v":80.8},{"s":"o","i":68.9,"v":82.4},{"s":"o","i":72.0,"v":94.9},{"s":"o","i":76.0,"v":92.7},{"s":"o","i":80.1,"v":90.3},{"s":"o","i":84.1,"v":76.9},{"s":"o","i":87.2,"v":65.0},{"s":"o","i":90.2,"v":80.8},{"s":"o","i":94.2,"v":94.9},{"s":"o","i":98.3,"v":94.9},{"s":"o","i":102.3,"v":72.9},{"s":"o","i":105.4,"v":76.9},{"s":"o","i":108.4,"v":94.9},{"s":"o","i":111.4,"v":84.8},{"s":"o","i":114.5,"v":33.4},{"s":"o","i":116.5,"v":7.3},{"s":"o","i":118.5,"v":17.6},{"s":"o","i":121.5,"v":65.0},{"s":"o","i":124.6,"v":92.7},{"s":"o","i":127.6,"v":72.9},{"s":"o","i":129.6,"v":25.5},{"s":"o","i":131.7,"v":13.7},{"s":"o","i":134.7,"v":57.1},{"s":"o","i":137.7,"v":92.7},{"s":"o","i":140.8,"v":92.7},{"s":"o","i":143.8,"v":69.0},{"s":"o","i":146.8,"v":17.6},{"s":"o","i":149.3,"v":3.4},{"s":"o","i":151.9,"v":29.5},{"s":"o","i":154.9,"v":72.9},{"s":"o","i":158.0,"v":72.9},{"s":"o","i":161.0,"v":53.2},{"s":"o","i":164.0,"v":72.9},{"s":"o","i":167.0,"v":57.1},{"s":"o","i":170.1,"v":17.6},{"s":"o","i":173.1,"v":25.5},{"s":"o","i":176.2,"v":41.3},{"s":"o","i":179.2,"v":41.3},{"s":"o","i":182.2,"v":42.9},{"s":"o","i":185.2,"v":41.3},{"s":"o","i":188.2,"v":25.5},{"s":"o","i":191.3,"v":29.5},{"s":"o","i":194.4,"v":65.0},{"s":"o","i":197.4,"v":92.7},{"s":"o","i":200.4,"v":88.7},{"s":"o","i":203.5,"v":25.5},{"s":"o","i":205.5,"v":33.4},{"s":"o","i":207.5,"v":72.9},{"s":"o","i":209.5,"v":65.0},{"s":"o","i":211.5,"v":17.6},{"s":"o","i":214.6,"v":13.7},{"s":"o","i":217.6,"v":17.6},{"s":"o","i":220.2,"v":5.8},{"s":"o","i":222.1,"v":33.4},{"s":"o","i":224.7,"v":86.3},{"s":"o","i":226.3,"v":98.2},{"s":"o","i":228.7,"v":79.2},{"s":"o","i":230.7,"v":88.7},{"s":"o","i":233.4,"v":99.0},
{"s":"k","i":0,"v":70.5},{"s":"k","i":1.2,"v":88.7},{"s":"k","i":2.6,"v":90.3},{"s":"k","i":3.8,"v":70.5},{"s":"k","i":5.2,"v":57.1},{"s":"k","i":7.3,"v":25.5},{"s":"k","i":8.7,"v":5.8},{"s":"k","i":10.3,"v":17.6},{"s":"k","i":12.3,"v":45.3},{"s":"k","i":14.3,"v":37.4},{"s":"k","i":16.4,"v":53.2},{"s":"k","i":18.4,"v":71.3},{"s":"k","i":19.4,"v":75.2},{"s":"k","i":20.6,"v":65.0},{"s":"k","i":22.4,"v":33.4},{"s":"k","i":24.5,"v":9.7},{"s":"k","i":26.5,"v":1.8},{"s":"k","i":27.9,"v":3.4},{"s":"k","i":29.5,"v":21.6},{"s":"k","i":31.5,"v":49.2},{"s":"k","i":33.6,"v":72.9},{"s":"k","i":35.6,"v":82.4},{"s":"k","i":37.6,"v":79.2},{"s":"k","i":39.6,"v":57.1},{"s":"k","i":41.7,"v":33.4},{"s":"k","i":43.7,"v":17.6},{"s":"k","i":45.7,"v":5.8},{"s":"k","i":47.7,"v":3.4},{"s":"k","i":49.8,"v":5.8},{"s":"k","i":51.8,"v":13.7},{"s":"k","i":53.8,"v":33.4},{"s":"k","i":55.8,"v":72.9},{"s":"k","i":57.4,"v":96.6},{"s":"k","i":59.9,"v":98.2},{"s":"k","i":61.9,"v":88.7},{"s":"k","i":63.9,"v":72.9},{"s":"k","i":65.9,"v":57.1},{"s":"k","i":68.0,"v":72.9},{"s":"k","i":70.0,"v":92.7},{"s":"k","i":72.0,"v":96.6},{"s":"k","i":74.0,"v":92.7},{"s":"k","i":76.0,"v":80.8},{"s":"k","i":78.1,"v":92.7},{"s":"k","i":80.1,"v":88.7},{"s":"k","i":82.1,"v":80.8},{"s":"k","i":84.1,"v":65.0},{"s":"k","i":86.1,"v":49.2},{"s":"k","i":88.2,"v":72.9},{"s":"k","i":90.2,"v":88.7},{"s":"k","i":92.2,"v":96.6},{"s":"k","i":94.2,"v":92.7},{"s":"k","i":96.2,"v":96.6},{"s":"k","i":98.3,"v":92.7},{"s":"k","i":100.3,"v":72.9},{"s":"k","i":102.3,"v":49.2},{"s":"k","i":104.3,"v":72.9},{"s":"k","i":106.4,"v":92.7},{"s":"k","i":108.4,"v":96.6},{"s":"k","i":110.4,"v":80.8},{"s":"k","i":112.4,"v":25.5},{"s":"k","i":114.0,"v":1.8},{"s":"k","i":115.5,"v":5.8},{"s":"k","i":117.5,"v":41.3},{"s":"k","i":119.5,"v":72.9},{"s":"k","i":121.5,"v":92.7},{"s":"k","i":123.6,"v":96.6},{"s":"k","i":125.6,"v":72.9},{"s":"k","i":127.6,"v":17.6},{"s":"k","i":129.0,"v":1.8},{"s":"k","i":130.6,"v":17.6},{"s":"k","i":132.7,"v":57.1},{"s":"k","i":134.7,"v":88.7},{"s":"k","i":136.7,"v":96.6},{"s":"k","i":138.7,"v":96.6},{"s":"k","i":140.8,"v":84.8},{"s":"k","i":142.8,"v":65.0},{"s":"k","i":144.8,"v":25.5},{"s":"k","i":146.4,"v":1.8},{"s":"k","i":148.4,"v":5.8},{"s":"k","i":150.5,"v":33.4},{"s":"k","i":152.5,"v":72.9},{"s":"k","i":154.5,"v":84.8},{"s":"k","i":156.9,"v":72.9},{"s":"k","i":158.9,"v":41.3},{"s":"k","i":161.0,"v":57.1},{"s":"k","i":163.0,"v":84.8},{"s":"k","i":165.0,"v":72.9},{"s":"k","i":167.0,"v":33.4},{"s":"k","i":169.1,"v":5.8},{"s":"k","i":171.1,"v":17.6},{"s":"k","i":173.1,"v":49.2},{"s":"k","i":175.1,"v":57.1},{"s":"k","i":177.2,"v":33.4},{"s":"k","i":179.2,"v":49.2},{"s":"k","i":181.2,"v":53.2},{"s":"k","i":183.2,"v":33.4},{"s":"k","i":185.2,"v":53.2},{"s":"k","i":187.3,"v":25.5},{"s":"k","i":189.3,"v":17.6},{"s":"k","i":191.3,"v":41.3},{"s":"k","i":193.4,"v":72.9},{"s":"k","i":195.4,"v":92.7},{"s":"k","i":197.4,"v":96.6},{"s":"k","i":199.4,"v":88.7},{"s":"k","i":201.4,"v":33.4},{"s":"k","i":203.0,"v":3.4},{"s":"k","i":205.1,"v":25.5},{"s":"k","i":207.1,"v":88.7},{"s":"k","i":208.5,"v":92.7},{"s":"k","i":209.9,"v":33.4},{"s":"k","i":211.1,"v":3.4},{"s":"k","i":213.2,"v":25.5},{"s":"k","i":215.2,"v":41.3},{"s":"k","i":217.2,"v":33.4},{"s":"k","i":218.7,"v":11.3},{"s":"k","i":219.6,"v":17.6},{"s":"k","i":221.3,"v":33.4},{"s":"k","i":222.7,"v":84.8},{"s":"k","i":224.1,"v":90.3},{"s":"k","i":226.1,"v":98.2},{"s":"k","i":227.7,"v":84.8},{"s":"k","i":229.4,"v":71.3},{"s":"k","i":230.6,"v":70.5},{"s":"k","i":231.8,"v":92.7},{"s":"k","i":233.4,"v":99.0}],
"stb":[
{"g":1,"i":1.6,"v":79.2},{"g":1,"i":3.2,"v":87.1},{"g":1,"i":5.2,"v":88.7},{"g":1,"i":7.3,"v":91.1},{"g":1,"i":9.3,"v":94.9},{"g":1,"i":13.3,"v":94.9},{"g":1,"i":14.7,"v":92.7},{"g":1,"i":16.8,"v":86.3},{"g":1,"i":19.8,"v":80.8},
{"g":2,"i":30.5,"v":21.6},{"g":2,"i":32.5,"v":17.6},{"g":2,"i":35.2,"v":13.7},{"g":2,"i":37.6,"v":21.6},
{"g":3,"i":43.7,"v":21.6},{"g":3,"i":46.7,"v":11.3},{"g":3,"i":49.7,"v":7.3},{"g":3,"i":52.8,"v":5.0},{"g":3,"i":54.8,"v":5.8},{"g":3,"i":56.2,"v":11.3},
{"g":4,"i":63.9,"v":84.8},{"g":4,"i":65.9,"v":92.7},{"g":4,"i":70.0,"v":94.9},{"g":4,"i":78.1,"v":92.7},{"g":4,"i":84.1,"v":94.9},{"g":4,"i":90.2,"v":92.7},{"g":4,"i":96.2,"v":94.9},{"g":4,"i":102.3,"v":96.6},{"g":4,"i":108.4,"v":94.9},{"g":4,"i":111.4,"v":87.1},
{"g":5,"i":139.7,"v":82.4},{"g":5,"i":142.8,"v":84.8},{"g":5,"i":144.8,"v":80.8},
{"g":6,"i":171.1,"v":21.6},{"g":6,"i":174.1,"v":16.0},{"g":6,"i":179.2,"v":13.7},{"g":6,"i":185.2,"v":15.2},{"g":6,"i":191.3,"v":17.6},
{"g":7,"i":199.4,"v":84.8},{"g":7,"i":202.5,"v":87.1},{"g":7,"i":205.5,"v":80.8},
{"g":8,"i":217.6,"v":13.7},{"g":8,"i":220.6,"v":11.3},{"g":8,"i":224.7,"v":17.6}]
},
"vconcat":[
{"width":1157,"height":303,
"layer":[
{"data":{"name":"vl"},"mark":{"type":"rule","clip":true},"encoding":{"x":{"field":"i","type":"quantitative","scale":{"domain":[-0.4,233.8],"nice":false,"zero":false},"axis":null},"color":{"condition":{"test":"datum.sig=='buy'","value":"#22e322"},"value":"#ff0d0d"},"strokeWidth":{"condition":{"test":"datum.lvl=='main'","value":3},"value":1}}},
{"data":{"name":"bars"},"mark":{"type":"rule","strokeWidth":1,"clip":true},"encoding":{"x":{"field":"i","type":"quantitative","axis":null},"y":{"field":"l","type":"quantitative","scale":{"domain":[67.24,70.196],"nice":false,"zero":false},"axis":{"orient":"right","values":[67.45,67.65,67.85,68.05,68.25,68.45,68.65,68.85,69.05,69.25,69.45,69.65,69.85,70.05],"labelExpr":"slice(format(datum.value,'.3f'),0,2)","tickSize":3,"labelPadding":1,"title":null,"labelOverlap":false}},"y2":{"field":"h"},"color":{"condition":{"test":"datum.c >= datum.o","value":"#3434ff"},"value":"#ff2a2a"}}},
{"data":{"name":"bars"},"mark":{"type":"bar","width":3,"clip":true},"encoding":{"x":{"field":"i","type":"quantitative","axis":null},"y":{"field":"o","type":"quantitative","axis":{"orient":"right","values":[67.45,67.65,67.85,68.05,68.25,68.45,68.65,68.85,69.05,69.25,69.45,69.65,69.85,70.05],"labelExpr":"slice(format(datum.value,'.3f'),0,2)","tickSize":3,"labelPadding":1,"title":null,"labelOverlap":false}},"y2":{"field":"c"},"color":{"condition":{"test":"datum.c >= datum.o","value":"#0000ff"},"value":"#ff0000"}}},
{"data":{"name":"bands"},"mark":{"type":"line","color":"#ffd000","strokeWidth":1.6,"clip":true},"encoding":{"x":{"field":"i","type":"quantitative","axis":null},"y":{"field":"p","type":"quantitative","axis":{"orient":"right","values":[67.45,67.65,67.85,68.05,68.25,68.45,68.65,68.85,69.05,69.25,69.45,69.65,69.85,70.05],"labelExpr":"slice(format(datum.value,'.3f'),0,2)","tickSize":3,"labelPadding":1,"title":null,"labelOverlap":false}},"detail":{"field":"s"}}},
{"data":{"values":[{}]},"mark":{"type":"text","align":"left","baseline":"middle","font":"Liberation Sans","fontSize":6,"color":"#f4f4f4","text":"▾ AUDJPY,H1"},"encoding":{"x":{"datum":-0.1,"type":"quantitative","axis":null},"y":{"datum":70.137,"type":"quantitative","axis":{"orient":"right","values":[67.45,67.65,67.85,68.05,68.25,68.45,68.65,68.85,69.05,69.25,69.45,69.65,69.85,70.05],"labelExpr":"slice(format(datum.value,'.3f'),0,2)","tickSize":3,"labelPadding":1,"title":null,"labelOverlap":false}}}},
{"data":{"values":[{}]},"mark":{"type":"text","align":"left","baseline":"middle","font":"Liberation Sans","fontSize":6,"color":"#f4f4f4","text":"-31 minutes and 38 seconds to bar close. (Spread: 0.3)"},"encoding":{"x":{"datum":-0.1,"type":"quantitative","axis":null},"y":{"datum":70.069,"type":"quantitative","axis":{"orient":"right","values":[67.45,67.65,67.85,68.05,68.25,68.45,68.65,68.85,69.05,69.25,69.45,69.65,69.85,70.05],"labelExpr":"slice(format(datum.value,'.3f'),0,2)","tickSize":3,"labelPadding":1,"title":null,"labelOverlap":false}}}}
]},
{"width":1157,"height":124,
"resolve":{"scale":{"x":"independent"}},
"layer":[
{"data":{"name":"vl"},"mark":{"type":"rule","clip":true},"encoding":{"x":{"field":"i","type":"quantitative","scale":{"domain":[-0.4,233.8],"nice":false,"zero":false},"axis":null},"color":{"condition":{"test":"datum.sig=='buy'","value":"#22e322"},"value":"#ff0d0d"},"strokeWidth":{"condition":{"test":"datum.lvl=='main'","value":3},"value":1}}},
{"data":{"values":[{"lv":32},{"lv":50},{"lv":68}]},"mark":{"type":"rule","color":"#555555","strokeWidth":1,"strokeDash":[2,2],"clip":true},"encoding":{"y":{"field":"lv","type":"quantitative","scale":{"domain":[15.74,87.74],"nice":false,"zero":false},"axis":{"orient":"right","values":[16,32,50,68,87],"tickSize":3,"labelPadding":1,"title":null,"labelOverlap":false}}}},
{"data":{"values":[{}]},"mark":{"type":"text","align":"left","baseline":"middle","font":"Liberation Sans","fontSize":6,"color":"#eeeeee","text":"(TDI Alerts mod. 2015 fxdaytrader) ::  78.5136 61.2026 43.8916 78.6757 76.9781"},"encoding":{"x":{"datum":-0.1,"type":"quantitative","scale":{"domain":[-0.4,233.8],"nice":false,"zero":false},"axis":null},"y":{"datum":83.97,"type":"quantitative","axis":{"orient":"right","values":[16,32,50,68,87],"tickSize":3,"labelPadding":1,"title":null,"labelOverlap":false}}}},
{"data":{"name":"tdi"},"transform":[{"filter":"datum.s=='y'"}],"mark":{"type":"line","color":"#ffd000","strokeWidth":2,"clip":true},"encoding":{"x":{"field":"i","type":"quantitative","scale":{"domain":[-0.4,233.8],"nice":false,"zero":false},"axis":null},"y":{"field":"v","type":"quantitative","axis":{"orient":"right","values":[16,32,50,68,87],"tickSize":3,"labelPadding":1,"title":null,"labelOverlap":false}}}},
{"data":{"name":"tdi"},"transform":[{"filter":"datum.s=='c'"}],"mark":{"type":"line","color":"#3ff0ea","strokeWidth":3,"clip":true},"encoding":{"x":{"field":"i","type":"quantitative","scale":{"domain":[-0.4,233.8],"nice":false,"zero":false},"axis":null},"y":{"field":"v","type":"quantitative","axis":{"orient":"right","values":[16,32,50,68,87],"tickSize":3,"labelPadding":1,"title":null,"labelOverlap":false}}}},
{"data":{"name":"tdi"},"transform":[{"filter":"datum.s=='r'"}],"mark":{"type":"line","color":"#d2143c","strokeWidth":2,"clip":true},"encoding":{"x":{"field":"i","type":"quantitative","scale":{"domain":[-0.4,233.8],"nice":false,"zero":false},"axis":null},"y":{"field":"v","type":"quantitative","axis":{"orient":"right","values":[16,32,50,68,87],"tickSize":3,"labelPadding":1,"title":null,"labelOverlap":false}}}},
{"data":{"values":[{}]},"mark":{"type":"rect","fill":"#a8a8a8","stroke":"#d0d0d0","strokeWidth":1.5,"clip":true},"encoding":{"x":{"datum":204.1,"type":"quantitative","scale":{"domain":[-0.4,233.8],"nice":false,"zero":false},"axis":null},"x2":{"datum":233.75},"y":{"datum":85.42,"type":"quantitative","axis":{"orient":"right","values":[16,32,50,68,87],"tickSize":3,"labelPadding":1,"title":null,"labelOverlap":false}},"y2":{"datum":29.09}}},
{"data":{"values":[{"t":"Panel Ratio: 9.41","v":81.35},{"t":"TDI WAvg Angle: 15°  Green: -64°  Red: 46°","v":76.13},{"t":"TDI Seperation: Good [1.9]","v":70.32}]},"mark":{"type":"text","align":"right","baseline":"middle","font":"Liberation Sans","fontSize":6.8,"color":"#e4e4e4"},"encoding":{"x":{"datum":233.2,"type":"quantitative","scale":{"domain":[-0.4,233.8],"nice":false,"zero":false},"axis":null},"y":{"field":"v","type":"quantitative","axis":{"orient":"right","values":[16,32,50,68,87],"tickSize":3,"labelPadding":1,"title":null,"labelOverlap":false}},"text":{"field":"t"}}},
{"data":{"values":[{}]},"mark":{"type":"rule","color":"#555555","strokeWidth":1.5},"encoding":{"x":{"datum":210.3,"type":"quantitative","scale":{"domain":[-0.4,233.8],"nice":false,"zero":false},"axis":null},"y":{"datum":63.93,"type":"quantitative","axis":{"orient":"right","values":[16,32,50,68,87],"tickSize":3,"labelPadding":1,"title":null,"labelOverlap":false}},"y2":{"datum":33.74}}},
{"data":{"name":"leg"},"mark":{"type":"text","baseline":"middle","font":"Liberation Sans","fontSize":7,"color":"#d8d8d8"},"encoding":{"x":{"field":"tf","type":"ordinal","scale":{"type":"point","domain":["M5","M15","M30","H1","H4","D1"],"range":[1029.6,1142],"padding":0},"axis":null},"y":{"datum":59.46,"type":"quantitative","axis":{"orient":"right","values":[16,32,50,68,87],"tickSize":3,"labelPadding":1,"title":null,"labelOverlap":false}},"text":{"field":"tf"}}},
{"data":{"name":"leg"},"mark":{"type":"text","baseline":"middle","font":"DejaVu Sans","fontWeight":"bold","fontSize":9},"encoding":{"x":{"field":"tf","type":"ordinal","scale":{"type":"point","domain":["M5","M15","M30","H1","H4","D1"],"range":[1029.6,1142],"padding":0},"axis":null},"y":{"datum":51.33,"type":"quantitative","axis":{"orient":"right","values":[16,32,50,68,87],"tickSize":3,"labelPadding":1,"title":null,"labelOverlap":false}},"text":{"field":"ar"},"color":{"condition":{"test":"datum.dir=='up'","value":"#008000"},"value":"#000000"}}},
{"data":{"name":"leg"},"mark":{"type":"text","baseline":"middle","font":"DejaVu Sans","fontWeight":"bold","fontSize":8,"color":"#666666"},"encoding":{"x":{"field":"tf","type":"ordinal","scale":{"type":"point","domain":["M5","M15","M30","H1","H4","D1"],"range":[1029.6,1142],"padding":0},"axis":null},"y":{"datum":43.61,"type":"quantitative","axis":{"orient":"right","values":[16,32,50,68,87],"tickSize":3,"labelPadding":1,"title":null,"labelOverlap":false}},"text":{"field":"ic"}}},
{"data":{"name":"leg"},"mark":{"type":"point","shape":"square","filled":true,"size":42,"opacity":1,"stroke":"#6a6a6a","strokeWidth":0.6},"encoding":{"x":{"field":"tf","type":"ordinal","scale":{"type":"point","domain":["M5","M15","M30","H1","H4","D1"],"range":[1029.6,1142],"padding":0},"axis":null},"y":{"datum":35.48,"type":"quantitative","axis":{"orient":"right","values":[16,32,50,68,87],"tickSize":3,"labelPadding":1,"title":null,"labelOverlap":false}},"fill":{"condition":[{"test":"datum.sq=='light'","value":"#90ee90"},{"test":"datum.sq=='green'","value":"#008000"}],"value":"#2f4f4f"}}}
]},
{"width":1157,"height":130,
"layer":[
{"data":{"name":"vl"},"mark":{"type":"rule","clip":true},"encoding":{"x":{"field":"i","type":"quantitative","scale":{"domain":[-0.4,233.8],"nice":false,"zero":false},"axis":{"values":[0,8,16,24,32,40,48,56,64,72,80,88,96,104,112,120,128,136,144,152,160,168,176,184,192,200,208,216,224,232],"labelExpr":"['4 May 2020','5 May 04:00','5 May 12:00','5 May 20:00','6 May 04:00','6 May 12:00','6 M','','7 May 12:00','7 May 20:00','8 May 04:00','8 May 12:00','8 May 20:00','11','','11 May 20:00','12 May 04:00','','','13 May 04:00','13 May 12:00','13 May 20:00','14 May 04:00','14 May 12:00','14 May 20:00','15 May 04:00','15 May 12:00','15 May 20:00','18 May 04:00','18 May'][round(datum.value/8)]","labelAlign":"left","labelFontSize":6,"labelFlush":false,"labelOverlap":false,"labelOffset":1,"tickSize":2,"labelPadding":1,"title":null}},"color":{"condition":{"test":"datum.sig=='buy'","value":"#22e322"},"value":"#ff0d0d"},"strokeWidth":{"condition":{"test":"datum.lvl=='main'","value":3},"value":1}}},
{"data":{"values":[{"lv":80},{"lv":50},{"lv":20}]},"mark":{"type":"rule","clip":true},"encoding":{"y":{"field":"lv","type":"quantitative","scale":{"domain":[-2.1,100.53],"nice":false,"zero":false},"axis":{"orient":"right","values":[0,100],"tickSize":3,"labelPadding":1,"title":null,"labelOverlap":false}},"color":{"condition":[{"test":"datum.lv==80","value":"#11ee11"},{"test":"datum.lv==50","value":"#40e0d8"}],"value":"#ff3b3b"},"strokeWidth":{"condition":{"test":"datum.lv==20","value":1},"value":2}}},
{"data":{"values":[{}]},"mark":{"type":"text","align":"left","baseline":"middle","font":"Liberation Sans","fontSize":6,"color":"#eeeeee","text":"Stochastic (8,3,3,Weighted,Close/Close,80,20) 96.1275 94.5205"},"encoding":{"x":{"datum":-0.1,"type":"quantitative","axis":{"values":[0,8,16,24,32,40,48,56,64,72,80,88,96,104,112,120,128,136,144,152,160,168,176,184,192,200,208,216,224,232],"labelExpr":"['4 May 2020','5 May 04:00','5 May 12:00','5 May 20:00','6 May 04:00','6 May 12:00','6 M','','7 May 12:00','7 May 20:00','8 May 04:00','8 May 12:00','8 May 20:00','11','','11 May 20:00','12 May 04:00','','','13 May 04:00','13 May 12:00','13 May 20:00','14 May 04:00','14 May 12:00','14 May 20:00','15 May 04:00','15 May 12:00','15 May 20:00','18 May 04:00','18 May'][round(datum.value/8)]","labelAlign":"left","labelFontSize":6,"labelFlush":false,"labelOverlap":false,"labelOffset":1,"tickSize":2,"labelPadding":1,"title":null}},"y":{"datum":95.9,"type":"quantitative","axis":{"orient":"right","values":[0,100],"tickSize":3,"labelPadding":1,"title":null,"labelOverlap":false}}}},
{"data":{"name":"st"},"transform":[{"filter":"datum.s=='sl'"}],"mark":{"type":"line","color":"#40e0d8","strokeWidth":3,"clip":true},"encoding":{"x":{"field":"i","type":"quantitative","axis":{"values":[0,8,16,24,32,40,48,56,64,72,80,88,96,104,112,120,128,136,144,152,160,168,176,184,192,200,208,216,224,232],"labelExpr":"['4 May 2020','5 May 04:00','5 May 12:00','5 May 20:00','6 May 04:00','6 May 12:00','6 M','','7 May 12:00','7 May 20:00','8 May 04:00','8 May 12:00','8 May 20:00','11','','11 May 20:00','12 May 04:00','','','13 May 04:00','13 May 12:00','13 May 20:00','14 May 04:00','14 May 12:00','14 May 20:00','15 May 04:00','15 May 12:00','15 May 20:00','18 May 04:00','18 May'][round(datum.value/8)]","labelAlign":"left","labelFontSize":6,"labelFlush":false,"labelOverlap":false,"labelOffset":1,"tickSize":2,"labelPadding":1,"title":null}},"y":{"field":"v","type":"quantitative","axis":{"orient":"right","values":[0,100],"tickSize":3,"labelPadding":1,"title":null,"labelOverlap":false}}}},
{"data":{"name":"st"},"transform":[{"filter":"datum.s=='y'"}],"mark":{"type":"line","color":"#ffd700","strokeWidth":2,"clip":true},"encoding":{"x":{"field":"i","type":"quantitative","axis":{"values":[0,8,16,24,32,40,48,56,64,72,80,88,96,104,112,120,128,136,144,152,160,168,176,184,192,200,208,216,224,232],"labelExpr":"['4 May 2020','5 May 04:00','5 May 12:00','5 May 20:00','6 May 04:00','6 May 12:00','6 M','','7 May 12:00','7 May 20:00','8 May 04:00','8 May 12:00','8 May 20:00','11','','11 May 20:00','12 May 04:00','','','13 May 04:00','13 May 12:00','13 May 20:00','14 May 04:00','14 May 12:00','14 May 20:00','15 May 04:00','15 May 12:00','15 May 20:00','18 May 04:00','18 May'][round(datum.value/8)]","labelAlign":"left","labelFontSize":6,"labelFlush":false,"labelOverlap":false,"labelOffset":1,"tickSize":2,"labelPadding":1,"title":null}},"y":{"field":"v","type":"quantitative","axis":{"orient":"right","values":[0,100],"tickSize":3,"labelPadding":1,"title":null,"labelOverlap":false}}}},
{"data":{"name":"st"},"transform":[{"filter":"datum.s=='o'"}],"mark":{"type":"line","color":"#ff8c00","strokeWidth":3,"clip":true},"encoding":{"x":{"field":"i","type":"quantitative","axis":{"values":[0,8,16,24,32,40,48,56,64,72,80,88,96,104,112,120,128,136,144,152,160,168,176,184,192,200,208,216,224,232],"labelExpr":"['4 May 2020','5 May 04:00','5 May 12:00','5 May 20:00','6 May 04:00','6 May 12:00','6 M','','7 May 12:00','7 May 20:00','8 May 04:00','8 May 12:00','8 May 20:00','11','','11 May 20:00','12 May 04:00','','','13 May 04:00','13 May 12:00','13 May 20:00','14 May 04:00','14 May 12:00','14 May 20:00','15 May 04:00','15 May 12:00','15 May 20:00','18 May 04:00','18 May'][round(datum.value/8)]","labelAlign":"left","labelFontSize":6,"labelFlush":false,"labelOverlap":false,"labelOffset":1,"tickSize":2,"labelPadding":1,"title":null}},"y":{"field":"v","type":"quantitative","axis":{"orient":"right","values":[0,100],"tickSize":3,"labelPadding":1,"title":null,"labelOverlap":false}}}},
{"data":{"name":"stb"},"mark":{"type":"line","color":"#0a0ae6","strokeWidth":3,"clip":true},"encoding":{"x":{"field":"i","type":"quantitative","axis":{"values":[0,8,16,24,32,40,48,56,64,72,80,88,96,104,112,120,128,136,144,152,160,168,176,184,192,200,208,216,224,232],"labelExpr":"['4 May 2020','5 May 04:00','5 May 12:00','5 May 20:00','6 May 04:00','6 May 12:00','6 M','','7 May 12:00','7 May 20:00','8 May 04:00','8 May 12:00','8 May 20:00','11','','11 May 20:00','12 May 04:00','','','13 May 04:00','13 May 12:00','13 May 20:00','14 May 04:00','14 May 12:00','14 May 20:00','15 May 04:00','15 May 12:00','15 May 20:00','18 May 04:00','18 May'][round(datum.value/8)]","labelAlign":"left","labelFontSize":6,"labelFlush":false,"labelOverlap":false,"labelOffset":1,"tickSize":2,"labelPadding":1,"title":null}},"y":{"field":"v","type":"quantitative","axis":{"orient":"right","values":[0,100],"tickSize":3,"labelPadding":1,"title":null,"labelOverlap":false}},"detail":{"field":"g"}}},
{"data":{"name":"st"},"transform":[{"filter":"datum.s=='k'"}],"mark":{"type":"line","color":"#dc143c","strokeWidth":2,"clip":true},"encoding":{"x":{"field":"i","type":"quantitative","axis":{"values":[0,8,16,24,32,40,48,56,64,72,80,88,96,104,112,120,128,136,144,152,160,168,176,184,192,200,208,216,224,232],"labelExpr":"['4 May 2020','5 May 04:00','5 May 12:00','5 May 20:00','6 May 04:00','6 May 12:00','6 M','','7 May 12:00','7 May 20:00','8 May 04:00','8 May 12:00','8 May 20:00','11','','11 May 20:00','12 May 04:00','','','13 May 04:00','13 May 12:00','13 May 20:00','14 May 04:00','14 May 12:00','14 May 20:00','15 May 04:00','15 May 12:00','15 May 20:00','18 May 04:00','18 May'][round(datum.value/8)]","labelAlign":"left","labelFontSize":6,"labelFlush":false,"labelOverlap":false,"labelOffset":1,"tickSize":2,"labelPadding":1,"title":null}},"y":{"field":"v","type":"quantitative","axis":{"orient":"right","values":[0,100],"tickSize":3,"labelPadding":1,"title":null,"labelOverlap":false}}}},
{"data":{"values":[{"lv":80},{"lv":50},{"lv":20}]},"mark":{"type":"rect","yOffset":-4.5,"y2Offset":4.5},"encoding":{"x":{"datum":234.35,"type":"quantitative","axis":{"values":[0,8,16,24,32,40,48,56,64,72,80,88,96,104,112,120,128,136,144,152,160,168,176,184,192,200,208,216,224,232],"labelExpr":"['4 May 2020','5 May 04:00','5 May 12:00','5 May 20:00','6 May 04:00','6 May 12:00','6 M','','7 May 12:00','7 May 20:00','8 May 04:00','8 May 12:00','8 May 20:00','11','','11 May 20:00','12 May 04:00','','','13 May 04:00','13 May 12:00','13 May 20:00','14 May 04:00','14 May 12:00','14 May 20:00','15 May 04:00','15 May 12:00','15 May 20:00','18 May 04:00','18 May'][round(datum.value/8)]","labelAlign":"left","labelFontSize":6,"labelFlush":false,"labelOverlap":false,"labelOffset":1,"tickSize":2,"labelPadding":1,"title":null}},"x2":{"datum":236.55},"y":{"field":"lv","type":"quantitative","axis":{"orient":"right","values":[0,100],"tickSize":3,"labelPadding":1,"title":null,"labelOverlap":false}},"y2":{"field":"lv"},"fill":{"condition":[{"test":"datum.lv==80","value":"#11ee11"},{"test":"datum.lv==50","value":"#40e0d8"}],"value":"#ff2a2a"}}},
{"data":{"values":[{"lv":80},{"lv":50},{"lv":20}]},"mark":{"type":"text","align":"center","baseline":"middle","font":"Liberation Sans","fontSize":7},"encoding":{"x":{"datum":235.45,"type":"quantitative","axis":{"values":[0,8,16,24,32,40,48,56,64,72,80,88,96,104,112,120,128,136,144,152,160,168,176,184,192,200,208,216,224,232],"labelExpr":"['4 May 2020','5 May 04:00','5 May 12:00','5 May 20:00','6 May 04:00','6 May 12:00','6 M','','7 May 12:00','7 May 20:00','8 May 04:00','8 May 12:00','8 May 20:00','11','','11 May 20:00','12 May 04:00','','','13 May 04:00','13 May 12:00','13 May 20:00','14 May 04:00','14 May 12:00','14 May 20:00','15 May 04:00','15 May 12:00','15 May 20:00','18 May 04:00','18 May'][round(datum.value/8)]","labelAlign":"left","labelFontSize":6,"labelFlush":false,"labelOverlap":false,"labelOffset":1,"tickSize":2,"labelPadding":1,"title":null}},"y":{"field":"lv","type":"quantitative","axis":{"orient":"right","values":[0,100],"tickSize":3,"labelPadding":1,"title":null,"labelOverlap":false}},"text":{"field":"lv"},"color":{"condition":[{"test":"datum.lv==80","value":"#0a7a0a"},{"test":"datum.lv==50","value":"#e8ffff"}],"value":"#ffffff"}}},
{"data":{"name":"vl"},"transform":[{"filter":"datum.i==55||datum.i==113||datum.i==145"}],"mark":{"type":"rect","xOffset":-26,"x2Offset":26},"encoding":{"x":{"field":"i","type":"quantitative","axis":{"values":[0,8,16,24,32,40,48,56,64,72,80,88,96,104,112,120,128,136,144,152,160,168,176,184,192,200,208,216,224,232],"labelExpr":"['4 May 2020','5 May 04:00','5 May 12:00','5 May 20:00','6 May 04:00','6 May 12:00','6 M','','7 May 12:00','7 May 20:00','8 May 04:00','8 May 12:00','8 May 20:00','11','','11 May 20:00','12 May 04:00','','','13 May 04:00','13 May 12:00','13 May 20:00','14 May 04:00','14 May 12:00','14 May 20:00','15 May 04:00','15 May 12:00','15 May 20:00','18 May 04:00','18 May'][round(datum.value/8)]","labelAlign":"left","labelFontSize":6,"labelFlush":false,"labelOverlap":false,"labelOffset":1,"tickSize":2,"labelPadding":1,"title":null}},"x2":{"field":"i"},"y":{"datum":-2.9,"type":"quantitative","axis":{"orient":"right","values":[0,100],"tickSize":3,"labelPadding":1,"title":null,"labelOverlap":false}},"y2":{"datum":-10.0},"fill":{"condition":{"test":"datum.sig=='buy'","value":"#22e322"},"value":"#f01010"}}},
{"data":{"name":"vl"},"transform":[{"filter":"datum.i==55||datum.i==113||datum.i==145"}],"mark":{"type":"text","align":"center","baseline":"middle","font":"Liberation Sans","fontSize":6,"color":"#ffffff"},"encoding":{"x":{"field":"i","type":"quantitative","axis":{"values":[0,8,16,24,32,40,48,56,64,72,80,88,96,104,112,120,128,136,144,152,160,168,176,184,192,200,208,216,224,232],"labelExpr":"['4 May 2020','5 May 04:00','5 May 12:00','5 May 20:00','6 May 04:00','6 May 12:00','6 M','','7 May 12:00','7 May 20:00','8 May 04:00','8 May 12:00','8 May 20:00','11','','11 May 20:00','12 May 04:00','','','13 May 04:00','13 May 12:00','13 May 20:00','14 May 04:00','14 May 12:00','14 May 20:00','15 May 04:00','15 May 12:00','15 May 20:00','18 May 04:00','18 May'][round(datum.value/8)]","labelAlign":"left","labelFontSize":6,"labelFlush":false,"labelOverlap":false,"labelOffset":1,"tickSize":2,"labelPadding":1,"title":null}},"y":{"datum":-6.45,"type":"quantitative","axis":{"orient":"right","values":[0,100],"tickSize":3,"labelPadding":1,"title":null,"labelOverlap":false}},"text":{"field":"t"}}},
{"data":{"name":"vl"},"transform":[{"filter":"datum.i==58||datum.i==110||datum.i==141"}],"mark":{"type":"rect","xOffset":-26,"x2Offset":26},"encoding":{"x":{"field":"i","type":"quantitative","axis":{"values":[0,8,16,24,32,40,48,56,64,72,80,88,96,104,112,120,128,136,144,152,160,168,176,184,192,200,208,216,224,232],"labelExpr":"['4 May 2020','5 May 04:00','5 May 12:00','5 May 20:00','6 May 04:00','6 May 12:00','6 M','','7 May 12:00','7 May 20:00','8 May 04:00','8 May 12:00','8 May 20:00','11','','11 May 20:00','12 May 04:00','','','13 May 04:00','13 May 12:00','13 May 20:00','14 May 04:00','14 May 12:00','14 May 20:00','15 May 04:00','15 May 12:00','15 May 20:00','18 May 04:00','18 May'][round(datum.value/8)]","labelAlign":"left","labelFontSize":6,"labelFlush":false,"labelOverlap":false,"labelOffset":1,"tickSize":2,"labelPadding":1,"title":null}},"x2":{"field":"i"},"y":{"datum":-2.9,"type":"quantitative","axis":{"orient":"right","values":[0,100],"tickSize":3,"labelPadding":1,"title":null,"labelOverlap":false}},"y2":{"datum":-10.0},"fill":{"condition":{"test":"datum.sig=='buy'","value":"#22e322"},"value":"#f01010"}}},
{"data":{"name":"vl"},"transform":[{"filter":"datum.i==58||datum.i==110||datum.i==141"}],"mark":{"type":"text","align":"center","baseline":"middle","font":"Liberation Sans","fontSize":6,"color":"#ffffff"},"encoding":{"x":{"field":"i","type":"quantitative","axis":{"values":[0,8,16,24,32,40,48,56,64,72,80,88,96,104,112,120,128,136,144,152,160,168,176,184,192,200,208,216,224,232],"labelExpr":"['4 May 2020','5 May 04:00','5 May 12:00','5 May 20:00','6 May 04:00','6 May 12:00','6 M','','7 May 12:00','7 May 20:00','8 May 04:00','8 May 12:00','8 May 20:00','11','','11 May 20:00','12 May 04:00','','','13 May 04:00','13 May 12:00','13 May 20:00','14 May 04:00','14 May 12:00','14 May 20:00','15 May 04:00','15 May 12:00','15 May 20:00','18 May 04:00','18 May'][round(datum.value/8)]","labelAlign":"left","labelFontSize":6,"labelFlush":false,"labelOverlap":false,"labelOffset":1,"tickSize":2,"labelPadding":1,"title":null}},"y":{"datum":-6.45,"type":"quantitative","axis":{"orient":"right","values":[0,100],"tickSize":3,"labelPadding":1,"title":null,"labelOverlap":false}},"text":{"field":"t"}}}
]}
]
}
